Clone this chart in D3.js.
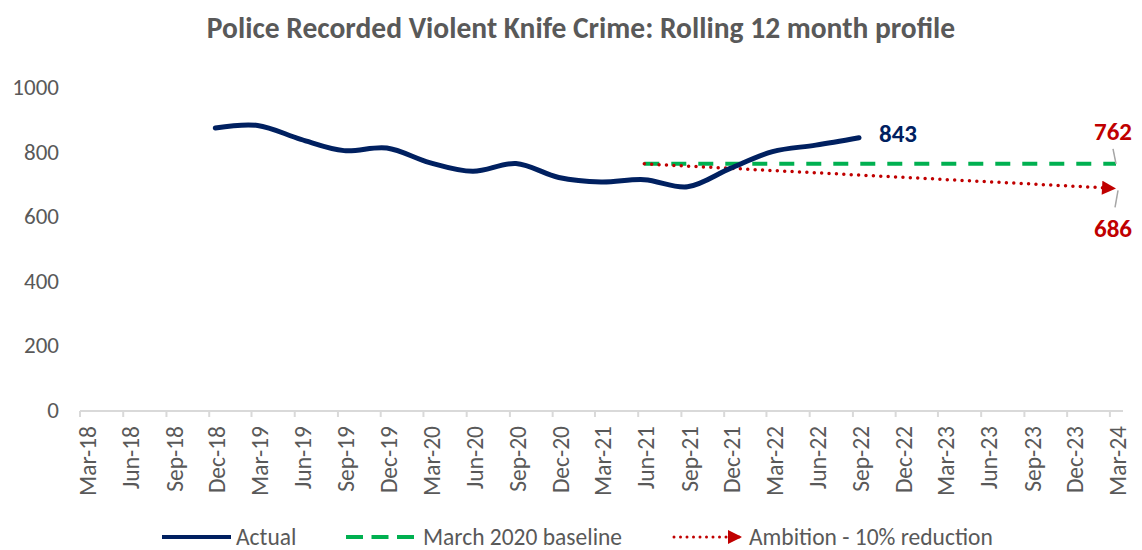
<!DOCTYPE html>
<html><head><meta charset="utf-8">
<script src="https://cdn.jsdelivr.net/npm/d3@7/dist/d3.min.js"></script>
<style>
body{margin:0;background:#fff;}
svg text{font-family:Carlito,Calibri,Lato,sans-serif;}
</style></head>
<body><svg id="c" width="1142" height="550"></svg>
<script>
// ---- data ----
const tickLabels = ["Mar-18","Jun-18","Sep-18","Dec-18","Mar-19","Jun-19","Sep-19","Dec-19","Mar-20","Jun-20","Sep-20","Dec-20","Mar-21","Jun-21","Sep-21","Dec-21","Mar-22","Jun-22","Sep-22","Dec-22","Mar-23","Jun-23","Sep-23","Dec-23","Mar-24"];
const yTicks = [0,200,400,600,800,1000];
const actualLabels = ["Dec-18","Mar-19","Jun-19","Sep-19","Dec-19","Mar-20","Jun-20","Sep-20","Dec-20","Mar-21","Jun-21","Sep-21","Dec-21","Mar-22","Jun-22","Sep-22"];
const actualValues = [873, 881, 838, 803, 811, 766, 739, 763, 720, 706, 713, 691, 748, 800, 820, 843];
const baselineLabels = ["Jun-21","Mar-24"];
const baselineValues = [762, 762];
const ambitionLabels = ["Jun-21","Mar-24"];
const ambitionValues = [762, 686];
const seriesNames = ["Actual","March 2020 baseline","Ambition - 10% reduction"];
const title = "Police Recorded Violent Knife Crime: Rolling 12 month profile";

const colors = {actual:"#002060", base:"#00B050", amb:"#C00000", text:"#595959", axis:"#D9D9D9"};
const mon = {Mar:2,Jun:5,Sep:8,Dec:11};
const tickDate = s => new Date(2000+ +s.slice(4), mon[s.slice(0,3)], 1);
const dataDate = s => new Date(2000+ +s.slice(4), mon[s.slice(0,3)], 14);

const svg = d3.select("#c");
const x = d3.scaleTime().domain([new Date(2018,2,1), new Date(2024,2,31)]).range([80,1124]);
const y = d3.scaleLinear().domain([0,1000]).range([410,87]);

// title
svg.append("text").attr("x",581).attr("y",38).attr("text-anchor","middle")
  .attr("font-size",29.5).attr("font-weight","bold").attr("fill",colors.text).text(title);

// y labels
svg.selectAll(".yl").data(yTicks).enter().append("text")
  .attr("x",59).attr("y",d=>y(d)).attr("dy","0.35em").attr("text-anchor","end")
  .attr("font-size",23).attr("fill",colors.text).text(d=>d);

// x axis
const xg = svg.append("g").attr("transform","translate(0,411)");
xg.append("line").attr("x1",80).attr("x2",1123).attr("stroke",colors.axis).attr("stroke-width",2);
xg.selectAll(".tk").data(tickLabels).enter().append("line")
  .attr("x1",d=>x(tickDate(d))).attr("x2",d=>x(tickDate(d))).attr("y1",0).attr("y2",6)
  .attr("stroke",colors.axis).attr("stroke-width",2);
xg.selectAll(".xl").data(tickLabels).enter().append("text")
  .attr("transform",d=>`translate(${x(tickDate(d))+8},15) rotate(-90)`)
  .attr("dy","0.35em").attr("text-anchor","end").attr("font-size",23.5).attr("fill",colors.text).text(d=>d);

// defs arrow
const defs = svg.append("defs");
defs.append("marker").attr("id","arr").attr("viewBox","0 0 10 10").attr("refX",10).attr("refY",5)
  .attr("markerWidth",16).attr("markerHeight",14).attr("markerUnits","userSpaceOnUse").attr("orient","auto")
  .append("path").attr("d","M0,0L10,5L0,10Z").attr("fill",colors.amb);

const lineGen = d3.line().x(d=>x(d[0])).y(d=>y(d[1]));

// baseline
svg.append("path").datum(baselineLabels.map((l,i)=>[dataDate(l),baselineValues[i]]))
  .attr("d",lineGen).attr("fill","none").attr("stroke",colors.base).attr("stroke-width",4)
  .attr("stroke-dasharray","15,12");
// ambition
svg.append("path").datum(ambitionLabels.map((l,i)=>[dataDate(l),ambitionValues[i]]))
  .attr("d",lineGen).attr("fill","none").attr("stroke",colors.amb).attr("stroke-width",3.5)
  .attr("stroke-linecap","round").attr("stroke-dasharray","0,7.4").attr("marker-end","url(#arr)");
// actual
svg.append("path").datum(actualLabels.map((l,i)=>[dataDate(l),actualValues[i]]))
  .attr("d",lineGen.curve(d3.curveCatmullRom.alpha(0.5))).attr("fill","none")
  .attr("stroke",colors.actual).attr("stroke-width",5).attr("stroke-linecap","round");

// data labels
const lastA = actualLabels.length-1;
svg.append("text").attr("x",x(dataDate(actualLabels[lastA]))+20).attr("y",y(actualValues[lastA])-4)
  .attr("dy","0.35em").attr("font-size",25).attr("font-weight","bold").attr("fill",colors.actual).text(actualValues[lastA]);
const bx = x(dataDate(baselineLabels[1]));
svg.append("line").attr("x1",bx-3).attr("y1",y(baselineValues[1])-15).attr("x2",bx).attr("y2",y(baselineValues[1]))
  .attr("stroke","#A6A6A6").attr("stroke-width",1.5);
svg.append("text").attr("x",bx+16).attr("y",y(baselineValues[1])-33).attr("dy","0.35em").attr("text-anchor","end")
  .attr("font-size",25).attr("font-weight","bold").attr("fill",colors.amb).text(baselineValues[1]);
svg.append("line").attr("x1",bx+2).attr("y1",y(ambitionValues[1])+2).attr("x2",bx-1).attr("y2",y(ambitionValues[1])+19)
  .attr("stroke","#A6A6A6").attr("stroke-width",1.5);
svg.append("text").attr("x",bx+16).attr("y",y(ambitionValues[1])+40).attr("dy","0.35em").attr("text-anchor","end")
  .attr("font-size",25).attr("font-weight","bold").attr("fill",colors.amb).text(ambitionValues[1]);

// legend
const ly = 537;
const lg = svg.append("g");
lg.append("line").attr("x1",162).attr("x2",231).attr("y1",ly).attr("y2",ly).attr("stroke",colors.actual).attr("stroke-width",4);
lg.append("text").attr("x",236).attr("y",ly).attr("dy","0.33em").attr("font-size",23.5).attr("fill",colors.text).text(seriesNames[0]);
lg.append("line").attr("x1",346).attr("x2",414).attr("y1",ly).attr("y2",ly).attr("stroke",colors.base).attr("stroke-width",4).attr("stroke-dasharray","17,8.5");
lg.append("text").attr("x",423).attr("y",ly).attr("dy","0.33em").attr("font-size",23.5).attr("fill",colors.text).text(seriesNames[1]);
lg.append("line").attr("x1",674).attr("x2",742).attr("y1",ly).attr("y2",ly).attr("stroke",colors.amb).attr("stroke-width",3)
  .attr("stroke-linecap","round").attr("stroke-dasharray","0,6.5").attr("marker-end","url(#arr)");
lg.append("text").attr("x",749).attr("y",ly).attr("dy","0.33em").attr("font-size",23.5).attr("fill",colors.text).text(seriesNames[2]);
</script></body></html>
